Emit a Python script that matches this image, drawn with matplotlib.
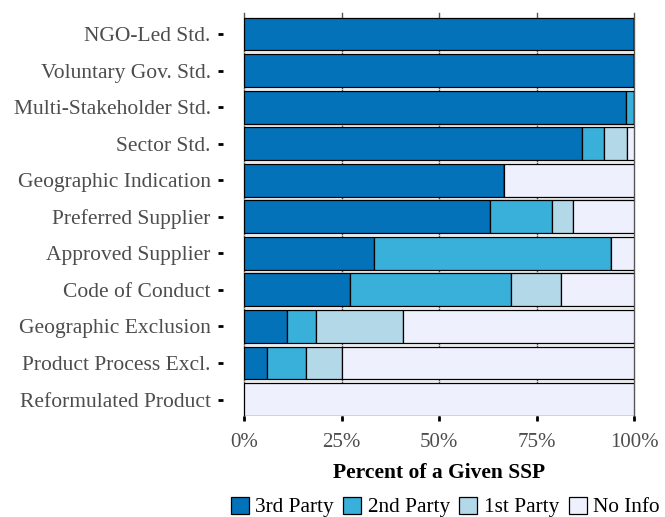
import numpy as np
import matplotlib
matplotlib.use("Agg")
import matplotlib.pyplot as plt
from matplotlib.ticker import FuncFormatter

plt.rcParams['font.family'] = ['Liberation Serif', 'DejaVu Serif']

categories = ["NGO-Led Std.", "Voluntary Gov. Std.", "Multi-Stakeholder Std.", "Sector Std.",
              "Geographic Indication", "Preferred Supplier", "Approved Supplier", "Code of Conduct",
              "Geographic Exclusion", "Product Process Excl.", "Reformulated Product"]

third  = [100.0, 100.0, 97.9, 86.6, 66.7, 63.2, 33.3, 27.3, 11.1, 6.0, 0.0]
second = [0.0, 0.0, 2.1, 5.7, 0.0, 15.8, 60.8, 41.2, 7.4, 10.0, 0.0]
first  = [0.0, 0.0, 0.0, 5.8, 0.0, 5.3, 0.0, 12.7, 22.2, 9.0, 0.0]
noinfo = [0.0, 0.0, 0.0, 1.9, 33.3, 15.7, 5.9, 18.8, 59.3, 75.0, 100.0]

series = ["3rd Party", "2nd Party", "1st Party", "No Info"]
colors = ["#0372b8", "#38b0d9", "#b3d8e8", "#eef1fd"]

fig = plt.figure(figsize=(6.65, 5.17), dpi=100)
ax = fig.add_axes([244/665, 101/517, 390/665, 403/517])

y = np.arange(len(categories))
left = np.zeros(len(categories))
for vals, lab, col in zip([third, second, first, noinfo], series, colors):
    vals = np.array(vals)
    ax.barh(y, vals, left=left, height=0.9, color=col, edgecolor="black",
            linewidth=0.9, label=lab, zorder=3)
    left += vals

ax.set_xlim(0, 100)
ax.set_ylim(len(categories) - 1 + 0.45, -0.575)
ax.set_yticks(y)
ax.set_yticklabels(categories)
ax.set_xticks([0, 25, 50, 75, 100])
ax.xaxis.set_major_formatter(FuncFormatter(lambda v, p: "{:d}%".format(int(v))))

for s in ax.spines.values():
    s.set_visible(False)
ax.spines['left'].set_position(('outward', 15))

ax.grid(axis='x', color="#555555", linewidth=1.0, zorder=0)
ax.set_yticks(y[:-1] + 0.5, minor=True)
ax.grid(axis='y', which='minor', color="#e2e2e2", linewidth=0.5, zorder=0)
ax.tick_params(axis='y', which='minor', length=0)
for gl in ax.get_xgridlines():
    gl.set_clip_on(False)

ax.tick_params(axis='both', which='major', length=3.6, width=2.0, color="black",
               labelcolor="#4d4d4d", labelsize=15)
ax.tick_params(axis='y', which='major', pad=5.5, labelsize=15.5)
ax.tick_params(axis='x', which='major', pad=8.5)

ax.set_xlabel("Percent of a Given SSP", fontsize=15.5, fontweight='bold', labelpad=8)

fig.legend(loc='center', bbox_to_anchor=(445/665, 10/517), ncol=4, frameon=False,
           fontsize=15.3, handlelength=0.85, handleheight=0.85, handletextpad=0.3,
           columnspacing=0.45, borderaxespad=0)

fig.savefig("out.png", dpi=100)
